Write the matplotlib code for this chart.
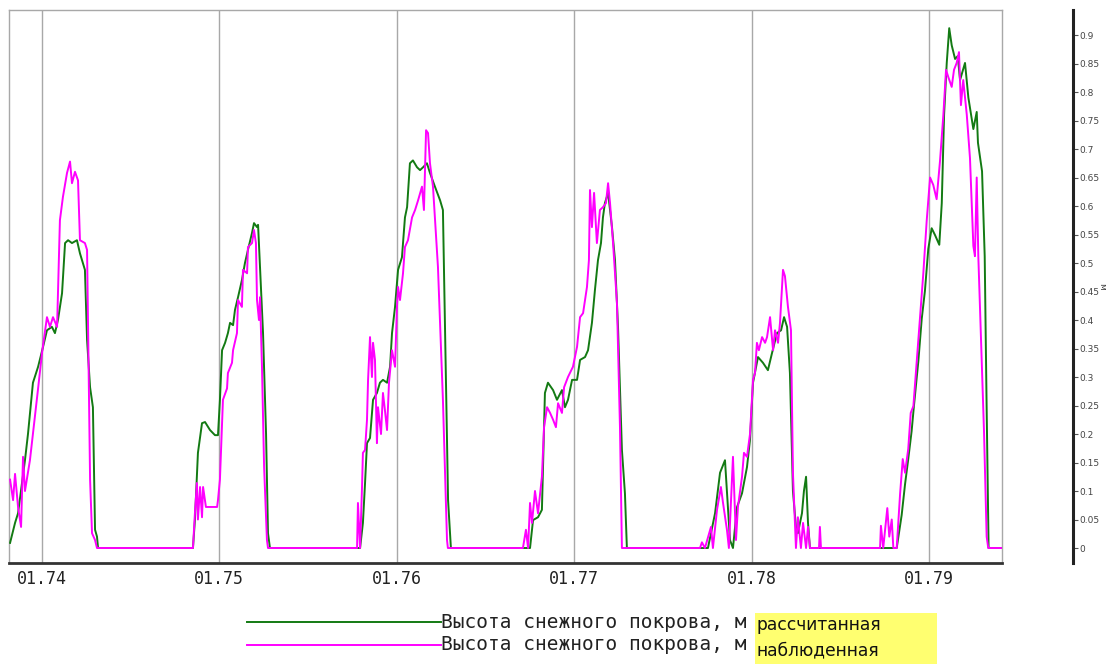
import numpy as np
import pandas as pd
import matplotlib
matplotlib.use("Agg")
import matplotlib.pyplot as plt
import matplotlib.dates as mdates
from matplotlib.lines import Line2D
from matplotlib.patches import Rectangle

# Высота снежного покрова (м), время в долях года
# --- рассчитанная ---
calc_yr_74 = [1973.820, 1973.848, 1973.865, 1973.904, 1973.921, 1973.949, 1973.978, 1974.006, 1974.028, 1974.056,
              1974.073, 1974.090, 1974.113, 1974.130, 1974.147, 1974.169, 1974.197, 1974.214, 1974.242, 1974.254,
              1974.271, 1974.287, 1974.299, 1974.310, 1974.316]
calc_h_74 = [0.009, 0.044, 0.061, 0.154, 0.20, 0.29, 0.318, 0.353, 0.382, 0.388,
             0.377, 0.40, 0.447, 0.535, 0.54, 0.535, 0.54, 0.517, 0.488, 0.365,
             0.282, 0.247, 0.032, 0.02, 0.0]

calc_yr_75 = [1974.851, 1974.862, 1974.879, 1974.902, 1974.919, 1974.947, 1974.975, 1974.992, 1975.003, 1975.015,
              1975.032, 1975.048, 1975.060, 1975.077, 1975.088, 1975.105, 1975.127, 1975.144, 1975.161, 1975.184,
              1975.195, 1975.212, 1975.218, 1975.229, 1975.246, 1975.263, 1975.274, 1975.285]
calc_h_75 = [0.0, 0.049, 0.167, 0.219, 0.221, 0.207, 0.198, 0.198, 0.26, 0.347,
             0.36, 0.377, 0.395, 0.391, 0.418, 0.44, 0.47, 0.50, 0.523, 0.553,
             0.57, 0.563, 0.567, 0.493, 0.377, 0.20, 0.026, 0.0]

calc_yr_76 = [1975.793, 1975.809, 1975.821, 1975.832, 1975.849, 1975.866, 1975.888, 1975.905, 1975.922, 1975.945,
              1975.962, 1975.973, 1975.990, 1976.007, 1976.029, 1976.046, 1976.058, 1976.074, 1976.091, 1976.114,
              1976.131, 1976.148, 1976.170, 1976.187, 1976.215, 1976.244, 1976.260, 1976.289, 1976.305]
calc_h_76 = [0.0, 0.044, 0.114, 0.184, 0.193, 0.26, 0.272, 0.29, 0.295, 0.29,
             0.318, 0.377, 0.423, 0.488, 0.51, 0.58, 0.598, 0.675, 0.68, 0.668,
             0.663, 0.668, 0.675, 0.658, 0.634, 0.61, 0.593, 0.084, 0.0]

calc_yr_77 = [1976.751, 1976.768, 1976.796, 1976.818, 1976.835, 1976.852, 1976.881, 1976.903, 1976.931, 1976.948,
              1976.965, 1976.988, 1977.016, 1977.033, 1977.061, 1977.078, 1977.100, 1977.117, 1977.134, 1977.151,
              1977.162, 1977.173, 1977.191, 1977.213, 1977.230, 1977.247, 1977.269, 1977.286, 1977.297]
calc_h_77 = [0.0, 0.049, 0.054, 0.067, 0.272, 0.29, 0.277, 0.26, 0.277, 0.247,
             0.26, 0.295, 0.295, 0.33, 0.335, 0.347, 0.395, 0.453, 0.505, 0.535,
             0.58, 0.605, 0.623, 0.563, 0.505, 0.388, 0.172, 0.096, 0.0]

calc_yr_78 = [1977.754, 1977.794, 1977.822, 1977.850, 1977.861, 1977.878, 1977.895, 1977.918, 1977.946, 1977.974,
              1977.991, 1978.008, 1978.036, 1978.064, 1978.092, 1978.115, 1978.143, 1978.166, 1978.183, 1978.200,
              1978.216, 1978.233, 1978.250, 1978.261, 1978.284, 1978.295, 1978.307, 1978.318, 1978.329]
calc_h_78 = [0.0, 0.061, 0.132, 0.154, 0.10, 0.014, 0.0, 0.072, 0.096, 0.142,
             0.19, 0.29, 0.335, 0.325, 0.312, 0.342, 0.377, 0.382, 0.405, 0.388,
             0.307, 0.10, 0.037, 0.026, 0.061, 0.10, 0.125, 0.044, 0.0]

calc_yr_79 = [1978.818, 1978.846, 1978.865, 1978.883, 1978.902, 1978.915, 1978.940, 1978.959, 1978.977, 1978.996,
              1979.015, 1979.034, 1979.058, 1979.072, 1979.085, 1979.100, 1979.114, 1979.128, 1979.147, 1979.162,
              1979.175, 1979.203, 1979.222, 1979.250, 1979.269, 1979.276, 1979.299, 1979.314, 1979.324, 1979.336,
              1979.412]
calc_h_79 = [0.0, 0.058, 0.112, 0.156, 0.205, 0.249, 0.328, 0.402, 0.451, 0.525,
             0.561, 0.549, 0.532, 0.605, 0.76, 0.851, 0.912, 0.882, 0.858, 0.863,
             0.821, 0.851, 0.79, 0.735, 0.765, 0.711, 0.661, 0.512, 0.267, 0.0,
             0.0]

# --- наблюденная ---
obs_yr_74 = [1973.820, 1973.837, 1973.848, 1973.865, 1973.882, 1973.893, 1973.904, 1973.932, 1973.960, 1973.978,
             1974.000, 1974.028, 1974.045, 1974.062, 1974.085, 1974.101, 1974.118, 1974.141, 1974.158, 1974.169,
             1974.186, 1974.203, 1974.214, 1974.242, 1974.254, 1974.271, 1974.282, 1974.299, 1974.310]
obs_h_74 = [0.12, 0.084, 0.13, 0.072, 0.037, 0.16, 0.10, 0.154, 0.23, 0.28,
            0.342, 0.405, 0.388, 0.405, 0.388, 0.575, 0.616, 0.658, 0.678, 0.64,
            0.66, 0.645, 0.54, 0.535, 0.523, 0.12, 0.026, 0.014, 0.0]

obs_yr_75 = [1974.851, 1974.862, 1974.873, 1974.879, 1974.891, 1974.902, 1974.908, 1974.924, 1974.987, 1974.992,
             1975.003, 1975.020, 1975.043, 1975.048, 1975.071, 1975.077, 1975.099, 1975.105, 1975.127, 1975.133,
             1975.156, 1975.161, 1975.184, 1975.195, 1975.206, 1975.212, 1975.223, 1975.229, 1975.240, 1975.252,
             1975.268, 1975.274]
obs_h_75 = [0.0, 0.061, 0.114, 0.05, 0.107, 0.054, 0.107, 0.072, 0.072, 0.084,
            0.12, 0.26, 0.28, 0.307, 0.325, 0.347, 0.377, 0.435, 0.423, 0.488,
            0.482, 0.528, 0.535, 0.558, 0.535, 0.435, 0.40, 0.44, 0.318, 0.142,
            0.014, 0.0]

obs_yr_76 = [1975.776, 1975.781, 1975.793, 1975.804, 1975.809, 1975.821, 1975.832, 1975.838, 1975.849, 1975.860,
             1975.866, 1975.877, 1975.888, 1975.894, 1975.911, 1975.922, 1975.933, 1975.945, 1975.956, 1975.973,
             1975.990, 1976.001, 1976.007, 1976.018, 1976.035, 1976.046, 1976.063, 1976.086, 1976.103, 1976.120,
             1976.142, 1976.153, 1976.165, 1976.176, 1976.187, 1976.204, 1976.232, 1976.260, 1976.283, 1976.288]
obs_h_76 = [0.0, 0.079, 0.0, 0.107, 0.167, 0.172, 0.225, 0.295, 0.37, 0.30,
            0.36, 0.33, 0.184, 0.247, 0.20, 0.272, 0.242, 0.207, 0.29, 0.347,
            0.318, 0.423, 0.458, 0.435, 0.482, 0.528, 0.54, 0.58, 0.593, 0.61,
            0.634, 0.593, 0.733, 0.728, 0.675, 0.634, 0.493, 0.26, 0.014, 0.0]

obs_yr_77 = [1976.711, 1976.728, 1976.740, 1976.751, 1976.762, 1976.779, 1976.796, 1976.818, 1976.830, 1976.847,
             1976.864, 1976.881, 1976.897, 1976.909, 1976.931, 1976.943, 1976.965, 1976.993, 1977.016, 1977.033,
             1977.050, 1977.072, 1977.083, 1977.089, 1977.100, 1977.112, 1977.128, 1977.145, 1977.162, 1977.179,
             1977.191, 1977.202, 1977.219, 1977.241, 1977.258, 1977.269]
obs_h_77 = [0.0, 0.032, 0.0, 0.079, 0.044, 0.10, 0.061, 0.125, 0.212, 0.247,
            0.237, 0.225, 0.212, 0.254, 0.237, 0.282, 0.30, 0.318, 0.353, 0.405,
            0.412, 0.458, 0.505, 0.628, 0.563, 0.623, 0.535, 0.593, 0.598, 0.605,
            0.64, 0.605, 0.535, 0.43, 0.212, 0.0]

obs_yr_78 = [1977.709, 1977.720, 1977.737, 1977.771, 1977.782, 1977.805, 1977.827, 1977.839, 1977.861, 1977.872,
             1977.895, 1977.912, 1977.923, 1977.946, 1977.957, 1977.974, 1977.991, 1978.008, 1978.019, 1978.030,
             1978.041, 1978.059, 1978.076, 1978.087, 1978.104, 1978.121, 1978.132, 1978.149, 1978.160, 1978.177,
             1978.188, 1978.205, 1978.222, 1978.233, 1978.250, 1978.261, 1978.278, 1978.290, 1978.307, 1978.318,
             1978.329, 1978.380, 1978.385, 1978.391]
obs_h_78 = [0.0, 0.01, 0.0, 0.037, 0.0, 0.067, 0.107, 0.079, 0.032, 0.0,
            0.16, 0.014, 0.072, 0.125, 0.167, 0.16, 0.20, 0.295, 0.307, 0.36,
            0.347, 0.37, 0.36, 0.37, 0.405, 0.347, 0.382, 0.36, 0.395, 0.488,
            0.477, 0.423, 0.382, 0.132, 0.0, 0.054, 0.0, 0.044, 0.0, 0.037,
            0.0, 0.0, 0.037, 0.0]

obs_yr_79 = [1978.724, 1978.729, 1978.742, 1978.765, 1978.776, 1978.790, 1978.799, 1978.818, 1978.837, 1978.852,
             1978.865, 1978.883, 1978.897, 1978.912, 1978.931, 1978.949, 1978.968, 1978.987, 1979.006, 1979.024,
             1979.043, 1979.062, 1979.081, 1979.096, 1979.109, 1979.128, 1979.141, 1979.156, 1979.169, 1979.180,
             1979.193, 1979.213, 1979.231, 1979.250, 1979.259, 1979.269, 1979.278, 1979.291, 1979.310, 1979.325,
             1979.334, 1979.412]
obs_h_79 = [0.0, 0.039, 0.0, 0.07, 0.02, 0.05, 0.0, 0.0, 0.095, 0.156,
            0.132, 0.174, 0.237, 0.249, 0.328, 0.402, 0.482, 0.574, 0.65, 0.637,
            0.612, 0.679, 0.76, 0.839, 0.826, 0.809, 0.839, 0.851, 0.87, 0.777,
            0.821, 0.76, 0.684, 0.53, 0.512, 0.65, 0.512, 0.388, 0.205, 0.02,
            0.0, 0.0]

calc_yr = calc_yr_74 + calc_yr_75 + calc_yr_76 + calc_yr_77 + calc_yr_78 + calc_yr_79
calc_h = calc_h_74 + calc_h_75 + calc_h_76 + calc_h_77 + calc_h_78 + calc_h_79
obs_yr = obs_yr_74 + obs_yr_75 + obs_yr_76 + obs_yr_77 + obs_yr_78 + obs_yr_79
obs_h = obs_h_74 + obs_h_75 + obs_h_76 + obs_h_77 + obs_h_78 + obs_h_79

label_calc = "рассчитанная"
label_obs = "наблюденная"
series_name = "Высота снежного покрова, м"

GREEN = "#137a13"
MAGENTA = "#ff00ff"


def to_dates(years):
    years = np.asarray(years, dtype=float)
    return pd.Timestamp("1974-01-01") + pd.to_timedelta((years - 1974.0) * 365.25, unit="D")


W, H = 1107, 664
fig = plt.figure(figsize=(W / 100, H / 100), dpi=100)
fig.patch.set_facecolor("white")

ax = fig.add_axes([9 / W, 1 - 563 / H, 993 / W, 553 / H])
ax.plot(to_dates(calc_yr), calc_h, color=GREEN, lw=1.4, zorder=3)
ax.plot(to_dates(obs_yr), obs_h, color=MAGENTA, lw=1.4, zorder=4)

ax.set_xlim(to_dates([1973.814])[0], to_dates([1979.4115])[0])
ax.set_ylim(-0.0263, 0.9439)
ax.xaxis.set_major_locator(mdates.YearLocator())
ax.xaxis.set_major_formatter(mdates.DateFormatter("%m.%y"))
ax.grid(axis="x", color="#a8a8a8", lw=1.0)
ax.set_yticks([])
ax.tick_params(axis="x", length=0, pad=5, labelsize=12, labelcolor="#222222")
for t in ax.get_xticklabels():
    t.set_family("DejaVu Sans Mono")
for side in ["top", "left", "right"]:
    ax.spines[side].set_color("#a8a8a8")
    ax.spines[side].set_linewidth(1.0)
ax.spines["bottom"].set_color("#333333")
ax.spines["bottom"].set_linewidth(2.0)

# отдельная шкала значений справа
ax2 = fig.add_axes([1073 / W, 1 - 563 / H, 0.5 / W, 553 / H])
ax2.set_ylim(-0.0263, 0.9439)
ax2.set_xticks([])
ax2.set_yticks(np.arange(0, 0.91, 0.05))
ax2.yaxis.set_major_formatter(plt.FuncFormatter(lambda v, p: f"{v:.2f}".rstrip("0").rstrip(".")))
ax2.yaxis.tick_right()
ax2.tick_params(axis="y", length=3, width=0.8, color="#555555", labelsize=6.5,
                labelcolor="#444444", pad=1)
ax2.patch.set_visible(False)
for side in ["top", "bottom", "right"]:
    ax2.spines[side].set_visible(False)
ax2.spines["left"].set_color("#222222")
ax2.spines["left"].set_linewidth(2.2)
fig.text(1102 / W, 1 - 286 / H, "м", rotation=270, fontsize=6.5, color="#444444",
         ha="center", va="center")

# легенда
y1 = 1 - 622 / H
y2 = 1 - 645 / H
fig.add_artist(Line2D([247 / W, 441 / W], [y1, y1], color=GREEN, lw=1.4))
fig.add_artist(Line2D([247 / W, 441 / W], [y2, y2], color=MAGENTA, lw=1.4))
fig.text(441 / W, y1, series_name, family="DejaVu Sans Mono", fontsize=14,
         va="center", ha="left", color="#222222")
fig.text(441 / W, y2, series_name, family="DejaVu Sans Mono", fontsize=14,
         va="center", ha="left", color="#222222")
fig.add_artist(Rectangle((755 / W, 0), 182 / W, 51 / H, transform=fig.transFigure,
                         facecolor="#ffff70", edgecolor="none"))
fig.text(757 / W, 1 - 625 / H, label_calc, fontsize=12.3, va="center", ha="left", color="#111111")
fig.text(757 / W, 1 - 650 / H, label_obs, fontsize=12.3, va="center", ha="left", color="#111111")

fig.savefig("out.png", dpi=100)
